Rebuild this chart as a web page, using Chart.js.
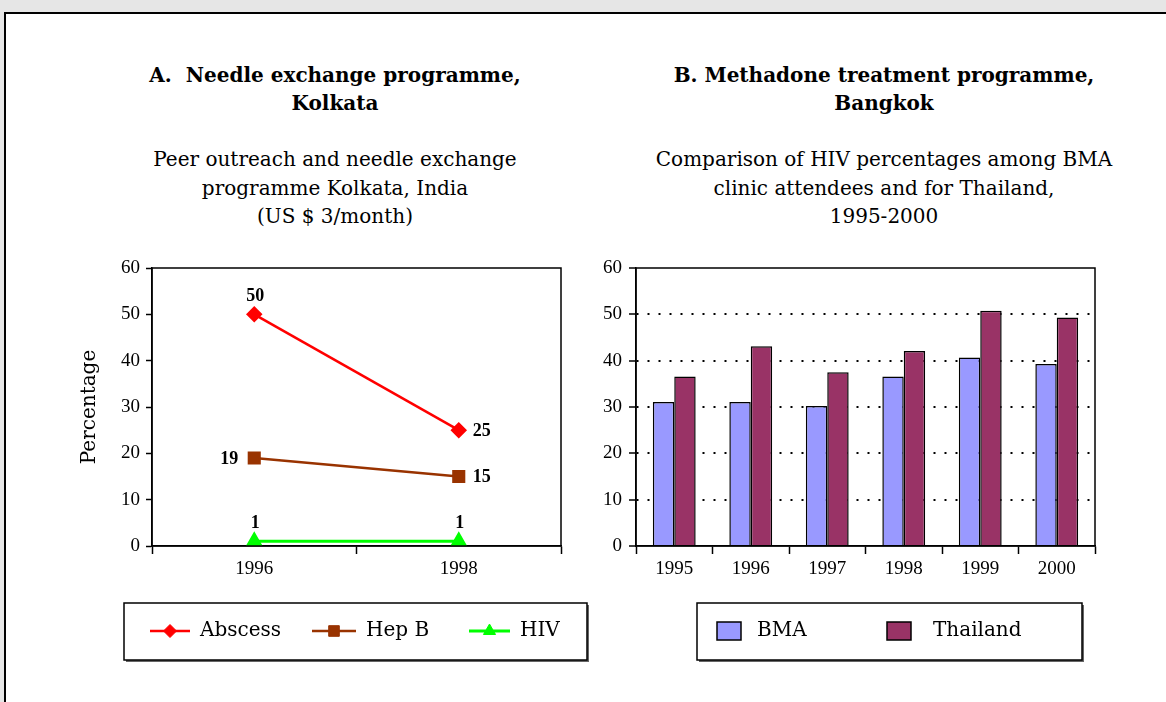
<!DOCTYPE html>
<html lang="en">
<head>
  <meta charset="UTF-8">
  <title>Needle exchange and methadone programmes</title>
  <style>
    body { margin: 0; width: 1166px; height: 702px; overflow: hidden; background: #e6e6e6; position: relative; }
    #panel { position: absolute; left: 4px; top: 12px; width: 1200px; height: 800px; background: #fff; border: 2px solid #000; }
    .title { position: absolute; text-align: center; font-family: "DejaVu Serif", serif; color: #000; font-size: 20px; line-height: 28px; white-space: nowrap; }
    .title b { font-weight: bold; }
    canvas { position: absolute; }
  </style>
</head>
<body>
  <div id="panel"></div>

  <div class="title" style="left:85px; top:61px; width:500px;"><b>A.&nbsp; Needle exchange programme,<br>Kolkata</b></div>
  <div class="title" style="left:85px; top:145px; width:500px; line-height:28.5px;">Peer outreach and needle exchange<br>programme Kolkata, India<br>(US $ 3/month)</div>

  <div class="title" style="left:604px; top:61px; width:560px;"><b>B. Methadone treatment programme,<br>Bangkok</b></div>
  <div class="title" style="left:604px; top:145px; width:560px; line-height:28.5px;">Comparison of HIV percentages among BMA<br>clinic attendees and for Thailand,<br>1995-2000</div>

  <canvas id="lineChart" width="570" height="440" style="left:50px; top:240px;"></canvas>
  <canvas id="barChart" width="586" height="440" style="left:580px; top:240px;"></canvas>

  <script src="https://cdn.jsdelivr.net/npm/chart.js"></script>
  <script>
    // Panel A data
    const lineYears = ['1996', '1998'];
    const abscess = [50, 25];
    const hepB = [19, 15];
    const hiv = [1, 1];

    // Panel B data
    const barYears = ['1995', '1996', '1997', '1998', '1999', '2000'];
    const bma = [31.1, 31.1, 30.2, 36.6, 40.7, 39.3];
    const thailand = [36.6, 43.1, 37.5, 42.1, 50.8, 49.3];

    const yMin = 0, yMax = 60, yStep = 10;

    const numFont = { family: 'Liberation Serif', size: 19 };
    const textFont = { family: 'DejaVu Serif', size: 20 };

    // box around the plot area (top and right edges)
    const frame = {
      id: 'frame',
      afterDatasetsDraw(chart) {
        const { ctx, chartArea: a } = chart;
        ctx.save();
        ctx.strokeStyle = '#000';
        ctx.lineWidth = 1.5;
        ctx.strokeRect(a.left, a.top, a.right - a.left, a.bottom - a.top);
        ctx.restore();
      }
    };

    function shape(ctx, style, x, y, r) {
      if (Chart.helpers && Chart.helpers.drawPoint) {
        Chart.helpers.drawPoint(ctx, { pointStyle: style, radius: r, rotation: 0, borderWidth: 1 }, x, y);
        return;
      }
      ctx.beginPath();
      if (style === 'rectRot') { ctx.moveTo(x, y - r); ctx.lineTo(x + r, y); ctx.lineTo(x, y + r); ctx.lineTo(x - r, y); }
      else if (style === 'triangle') { ctx.moveTo(x, y - r); ctx.lineTo(x + r * 0.87, y + r / 2); ctx.lineTo(x - r * 0.87, y + r / 2); }
      else { const s = r * Math.SQRT1_2; ctx.rect(x - s, y - s, 2 * s, 2 * s); }
      ctx.closePath(); ctx.fill(); ctx.stroke();
    }

    // legend inside a framed box, items placed like the original
    const boxLegend = {
      id: 'boxLegend',
      afterDraw(chart, args, opts) {
        const { ctx } = chart;
        const b = opts.box;
        ctx.save();
        ctx.fillStyle = '#666';
        ctx.fillRect(b.left + 2, b.top + 2, b.right - b.left, b.bottom - b.top);
        ctx.fillStyle = '#fff';
        ctx.fillRect(b.left, b.top, b.right - b.left, b.bottom - b.top);
        ctx.strokeStyle = '#000';
        ctx.lineWidth = 1.5;
        ctx.strokeRect(b.left, b.top, b.right - b.left, b.bottom - b.top);

        chart.data.datasets.forEach((ds, i) => {
          const it = opts.items[i];
          const y = opts.y;
          if (opts.kind === 'line') {
            ctx.strokeStyle = ds.borderColor;
            ctx.lineWidth = ds.borderWidth;
            ctx.beginPath();
            ctx.moveTo(it.x, y);
            ctx.lineTo(it.x + it.w, y);
            ctx.stroke();
            ctx.fillStyle = ds.pointBackgroundColor;
            ctx.strokeStyle = ds.pointBorderColor;
            ctx.lineWidth = 1;
            shape(ctx, ds.pointStyle, it.x + it.w / 2, y, ds.pointRadius);
          } else {
            ctx.fillStyle = ds.backgroundColor;
            ctx.fillRect(it.x, y - 9, 24, 18);
            ctx.strokeStyle = '#000';
            ctx.lineWidth = 1.5;
            ctx.strokeRect(it.x, y - 9, 24, 18);
          }
          ctx.fillStyle = '#000';
          ctx.font = textFont.size + 'px "' + textFont.family + '"';
          ctx.textAlign = 'left';
          ctx.textBaseline = 'middle';
          ctx.fillText(ds.label, it.tx, y);
        });
        ctx.restore();
      }
    };

    // value labels next to the points of panel A
    const valueLabels = {
      id: 'valueLabels',
      afterDatasetsDraw(chart, args, opts) {
        const { ctx } = chart;
        ctx.save();
        ctx.fillStyle = '#000';
        ctx.font = 'bold 18px "Liberation Serif"';
        ctx.textBaseline = 'middle';
        chart.data.datasets.forEach((ds, i) => {
          chart.getDatasetMeta(i).data.forEach((pt, j) => {
            const where = opts.place[i][j];
            const txt = String(ds.data[j]);
            if (where === 'top') { ctx.textAlign = 'center'; ctx.fillText(txt, pt.x + 1, pt.y - 18); }
            else if (where === 'right') { ctx.textAlign = 'left'; ctx.fillText(txt, pt.x + 14, pt.y + 1); }
            else { ctx.textAlign = 'right'; ctx.fillText(txt, pt.x - 16, pt.y + 1); }
          });
        });
        ctx.restore();
      }
    };

    new Chart(document.getElementById('lineChart'), {
      type: 'line',
      data: {
        labels: lineYears,
        datasets: [
          { label: 'Abscess', data: abscess, borderColor: '#ff0000', backgroundColor: '#ff0000', pointBackgroundColor: '#ff0000', pointBorderColor: '#ff0000', borderWidth: 2.5, pointStyle: 'rectRot', pointRadius: 6.5 },
          { label: 'Hep B', data: hepB, borderColor: '#993300', backgroundColor: '#993300', pointBackgroundColor: '#993300', pointBorderColor: '#993300', borderWidth: 2.5, pointStyle: 'rect', pointRadius: 7.5 },
          { label: 'HIV', data: hiv, borderColor: '#00ff00', backgroundColor: '#00ff00', pointBackgroundColor: '#00ff00', pointBorderColor: '#00ff00', borderWidth: 3, pointStyle: 'triangle', pointRadius: 7 }
        ]
      },
      options: {
        responsive: false,
        animation: false,
        layout: { padding: { top: 28, left: 28, right: 59, bottom: 94 } },
        plugins: {
          legend: { display: false },
          tooltip: { enabled: false },
          valueLabels: { place: [['top', 'right'], ['left', 'right'], ['top', 'top']] },
          boxLegend: {
            kind: 'line',
            box: { left: 74, top: 363, right: 537, bottom: 420 },
            y: 391,
            items: [{ x: 100, w: 40, tx: 150 }, { x: 262, w: 44, tx: 316 }, { x: 419, w: 41, tx: 470 }]
          }
        },
        scales: {
          x: {
            offset: true,
            grid: { offset: true, drawOnChartArea: false, tickLength: 8, tickColor: '#000', tickWidth: 1.5 },
            border: { color: '#000', width: 1.5 },
            ticks: { font: numFont, color: '#000', padding: 4 },
            afterFit: s => { s.height = 40; }
          },
          y: {
            min: yMin, max: yMax,
            ticks: { stepSize: yStep, font: numFont, color: '#000', padding: 6 },
            grid: { drawOnChartArea: false, tickLength: 6, tickColor: '#000', tickWidth: 1.5 },
            border: { color: '#000', width: 1.5 },
            title: { display: true, text: 'Percentage', font: textFont, color: '#000', padding: 0 },
            afterFit: s => { s.width = 74; }
          }
        }
      },
      plugins: [frame, valueLabels, boxLegend]
    });

    new Chart(document.getElementById('barChart'), {
      type: 'bar',
      data: {
        labels: barYears,
        datasets: [
          { label: 'BMA', data: bma, backgroundColor: '#9999ff', borderColor: '#000', borderWidth: 1.5 },
          { label: 'Thailand', data: thailand, backgroundColor: '#993366', borderColor: '#000', borderWidth: 1.5 }
        ]
      },
      options: {
        responsive: false,
        animation: false,
        categoryPercentage: 0.56,
        barPercentage: 1.0,
        layout: { padding: { top: 28, left: 0, right: 71, bottom: 94 } },
        plugins: {
          legend: { display: false },
          tooltip: { enabled: false },
          boxLegend: {
            kind: 'bar',
            box: { left: 117, top: 363, right: 502, bottom: 420 },
            y: 391,
            items: [{ x: 137, tx: 177 }, { x: 307, tx: 353 }]
          }
        },
        scales: {
          x: {
            grid: { offset: true, drawOnChartArea: false, tickLength: 8, tickColor: '#000', tickWidth: 1.5 },
            border: { color: '#000', width: 1.5 },
            ticks: { font: numFont, color: '#000', padding: 4 },
            afterFit: s => { s.height = 40; }
          },
          y: {
            min: yMin, max: yMax,
            ticks: { stepSize: yStep, font: numFont, color: '#000', padding: 7 },
            grid: {
              color: c => (c.tick && (c.tick.value === yMin || c.tick.value === yMax)) ? 'rgba(0,0,0,0)' : '#000',
              lineWidth: 2,
              tickLength: 7, tickColor: '#000', tickWidth: 1.5, tickBorderDash: []
            },
            border: { color: '#000', width: 1.5, dash: [2, 9] },
            afterFit: s => { s.width = 56; }
          }
        }
      },
      plugins: [frame, boxLegend]
    });
  </script>
</body>
</html>
